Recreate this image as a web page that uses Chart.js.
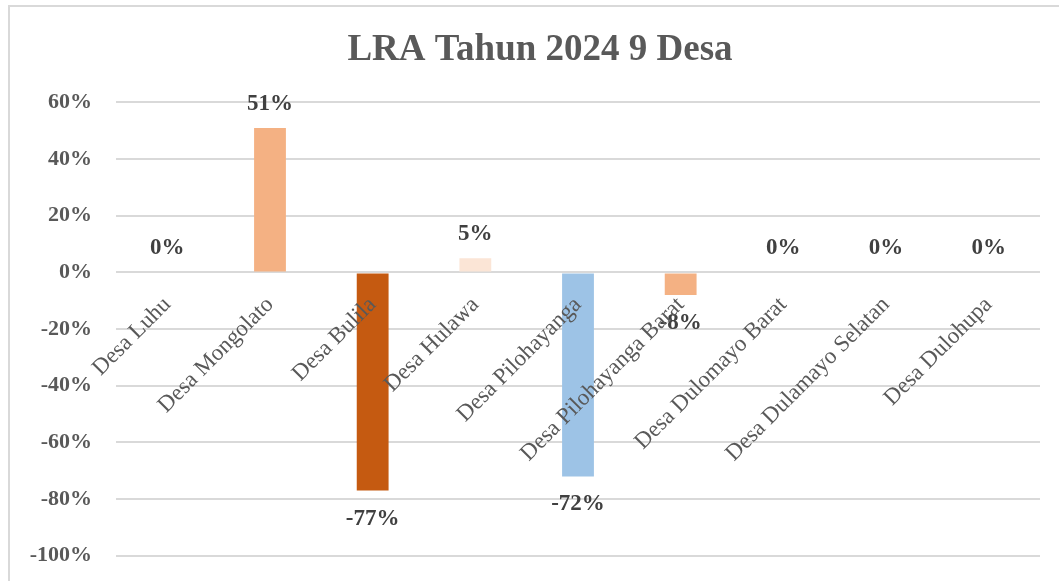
<!DOCTYPE html>
<html>
<head>
<meta charset="utf-8">
<script src="https://cdn.jsdelivr.net/npm/chart.js@4"></script>
<style>
  html, body { margin: 0; padding: 0; background: #fff; overflow: hidden; width: 1059px; height: 581px; }
  #frame { position: absolute; left: 8px; top: 5px; width: 1051px; height: 576px; border-left: 2px solid #d9d9d9; border-top: 2px solid #d9d9d9; box-sizing: border-box; }
  /* a little taller than the window: the lower strip falls off the page */
  #wrap { position: absolute; left: 0; top: 0; width: 1059px; height: 593px; }
</style>
</head>
<body>
<div id="frame"></div>
<div id="wrap"><canvas id="myChart"></canvas></div>
<script>
const desa = ['Desa Luhu', 'Desa Mongolato', 'Desa Bulila', 'Desa Hulawa', 'Desa Pilohayanga',
  'Desa Pilohayanga Barat', 'Desa Dulomayo Barat', 'Desa Dulamayo Selatan', 'Desa Dulohupa'];
const lra = [0, 0.51, -0.77, 0.05, -0.72, -0.08, 0, 0, 0];
const warna = ['#f4b183', '#f4b183', '#c55a11', '#fbe5d6', '#9dc3e6', '#f4b183', '#f4b183', '#f4b183', '#f4b183'];
const yTicks = [-1, -0.8, -0.6, -0.4, -0.2, 0, 0.2, 0.4, 0.6];

const serif = "'Liberation Serif', 'Times New Roman', serif";

// labels above / below each bar
const barLabels = {
  id: 'barLabels',
  afterDatasetsDraw(chart) {
    const ctx = chart.ctx;
    const meta = chart.getDatasetMeta(0);
    ctx.save();
    ctx.font = 'bold 23px ' + serif;
    ctx.fillStyle = '#404040';
    ctx.textAlign = 'center';
    ctx.textBaseline = 'middle';
    meta.data.forEach((bar, i) => {
      const v = lra[i];
      const txt = Math.round(v * 100) + '%';
      const y = v >= 0 ? bar.y - 24 : bar.y + 28;
      ctx.fillText(txt, bar.x, y);
    });
    ctx.restore();
  }
};

const ctx = document.getElementById('myChart').getContext('2d');
const myChart = new Chart(ctx, {
  type: 'bar',
  data: {
    labels: desa,
    datasets: [{
      data: lra,
      backgroundColor: warna,
      barPercentage: 0.31,
      categoryPercentage: 1
    }]
  },
  options: {
    responsive: true,
    maintainAspectRatio: false,
    animation: false,
    layout: { padding: { left: 21, right: 0, top: 0, bottom: 25 } },
    plugins: {
      legend: { display: false },
      tooltip: { enabled: false },
      title: {
        display: true,
        text: 'LRA Tahun 2024 9 Desa',
        color: '#595959',
        font: { family: serif, size: 37, weight: 'bold' },
        padding: { top: 28, bottom: 30 }
      }
    },
    scales: {
      x: {
        position: { y: 0 },
        grid: { display: false },
        border: { display: false },
        ticks: {
          z: 1, // names sit on top of the bars
          color: '#595959',
          font: { family: serif, size: 23 },
          maxRotation: 45,
          minRotation: 45,
          autoSkip: false,
          padding: 11
        }
      },
      y: {
        min: -1,
        max: 0.6,
        afterFit(scale) { scale.width = 95; },
        afterBuildTicks(scale) { scale.ticks = yTicks.map(v => ({ value: v })); },
        grid: { color: '#d9d9d9', lineWidth: 2, drawTicks: false },
        border: { display: false },
        ticks: {
          color: '#595959',
          font: { family: serif, size: 22, weight: 'bold' },
          padding: 24,
          callback: v => Math.round(v * 100) + '%'
        }
      },
      // empty right-hand strip so the plot stops short of the edge
      kanan: {
        position: 'right',
        afterFit(scale) { scale.width = 19; },
        grid: { display: false },
        border: { display: false },
        ticks: { display: false }
      }
    }
  },
  plugins: [barLabels]
});
</script>
</body>
</html>
